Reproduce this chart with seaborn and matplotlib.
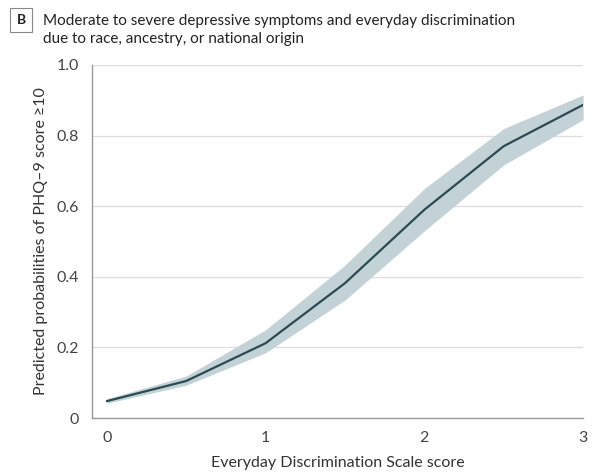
import pandas as pd
import seaborn as sns
import matplotlib.pyplot as plt

# Predicted probabilities
edsScore = [0, 0.5, 1, 1.5, 2, 2.5, 3]
predicted = [0.048, 0.105, 0.212, 0.382, 0.59, 0.77, 0.887]
lowerCI = [0.042, 0.093, 0.185, 0.334, 0.53, 0.717, 0.845]
upperCI = [0.055, 0.119, 0.25, 0.433, 0.65, 0.82, 0.915]
yTicks = [0, 0.2, 0.4, 0.6, 0.8, 1.0]
yTickLabels = ['0', '0.2', '0.4', '0.6', '0.8', '1.0']
xTicks = [0, 1, 2, 3]

data = pd.DataFrame({'EDS': edsScore, 'Predicted': predicted, 'Lower': lowerCI, 'Upper': upperCI})

sns.set_style('white')
plt.rcParams['font.family'] = ['Lato', 'DejaVu Sans']

fig = plt.figure(figsize=(5.92, 4.74), dpi=100)
ax = fig.add_axes([0.155, 0.118, 0.83, 0.745])

#Confidence band and line
ax.fill_between(data['EDS'], data['Lower'], data['Upper'], color='#c3d2d7', linewidth=0, zorder=2)
sns.lineplot(data=data, x='EDS', y='Predicted', color='#2b4a52', linewidth=1.6, ax=ax, zorder=3)

ax.set_xlim(-0.095, 3)
ax.set_ylim(0, 1.0)
ax.set_yticks(yTicks)
ax.set_yticklabels(yTickLabels)
ax.set_xticks(xTicks)
ax.yaxis.grid(True, color='#dddddd', linewidth=0.9, zorder=0)
ax.set_axisbelow(True)
sns.despine(ax=ax)
for side in ['left', 'bottom']:
    ax.spines[side].set_color('#999999')
    ax.spines[side].set_linewidth(1.0)
ax.tick_params(axis='both', length=5, width=1.0, color='#999999', labelsize=11.5, labelcolor='#444444', pad=4)

ax.set_xlabel('Everyday Discrimination Scale score', fontsize=11.5, color='#333333', labelpad=8)
ax.set_ylabel('Predicted probabilities of PHQ–9 score ≥10', fontsize=11.5, color='#333333', labelpad=6)

#Panel title
fig.text(0.073, 0.937, 'Moderate to severe depressive symptoms and everyday discrimination\ndue to race, ancestry, or national origin',
         fontsize=11, color='#222222', va='center', ha='left', linespacing=1.4)
fig.text(0.036, 0.958, 'B', fontsize=10, color='#222222', va='center', ha='center', fontweight='bold',
         bbox=dict(boxstyle='square,pad=0.45', facecolor='white', edgecolor='#888888', linewidth=0.8))

plt.savefig('out.png', dpi=100)
